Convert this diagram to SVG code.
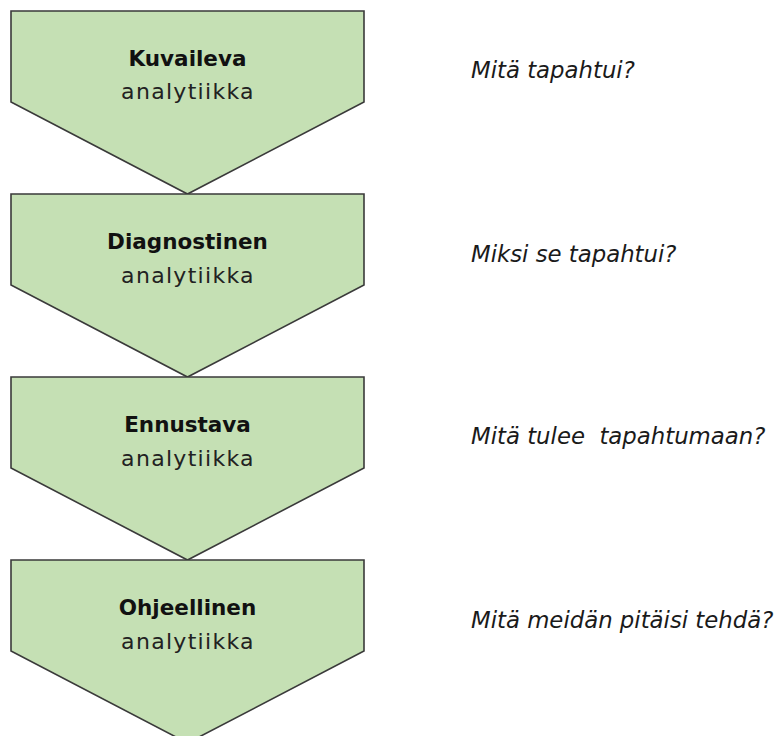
<svg xmlns="http://www.w3.org/2000/svg" width="781" height="736" viewBox="0 0 781 736">
<style>
.shape{fill:#C5E0B4;stroke:#3a3a3a;stroke-width:1.6;stroke-linejoin:miter}
.title{font-family:"DejaVu Sans",Verdana,sans-serif;font-weight:bold;font-size:21.5px;fill:#111;text-anchor:middle}
.sub{font-family:"DejaVu Sans",Verdana,sans-serif;font-size:22px;letter-spacing:1.3px;fill:#222;text-anchor:middle}
.q{font-family:"DejaVu Sans",Verdana,sans-serif;font-style:italic;font-size:22.8px;fill:#1a1a1a}
</style>
<rect width="781" height="736" fill="#fff"/>
<g id="connectors"/>
<g id="step1">
<path class="shape" d="M11,11 H364 V102 L187.5,194 L11,102 Z"/>
<text class="title" x="187.5" y="65.5">Kuvaileva</text>
<text class="sub" x="188" y="99">analytiikka</text>
<text class="q" x="471" y="78">Mitä tapahtui?</text>
</g>
<g id="step2">
<path class="shape" d="M11,194 H364 V285 L187.5,377 L11,285 Z"/>
<text class="title" x="187.5" y="248.5">Diagnostinen</text>
<text class="sub" x="188" y="283">analytiikka</text>
<text class="q" x="471" y="261.5">Miksi se tapahtui?</text>
</g>
<g id="step3">
<path class="shape" d="M11,377 H364 V468 L187.5,560 L11,468 Z"/>
<text class="title" x="187.5" y="431.5">Ennustava</text>
<text class="sub" x="188" y="466">analytiikka</text>
<text class="q" x="471" y="443.5" xml:space="preserve">Mitä tulee  tapahtumaan?</text>
</g>
<g id="step4">
<path class="shape" d="M11,560 H364 V651 L187.5,743 L11,651 Z"/>
<text class="title" x="187.5" y="614.5">Ohjeellinen</text>
<text class="sub" x="188" y="649">analytiikka</text>
<text class="q" x="471" y="628">Mitä meidän pitäisi tehdä?</text>
</g>
</svg>
